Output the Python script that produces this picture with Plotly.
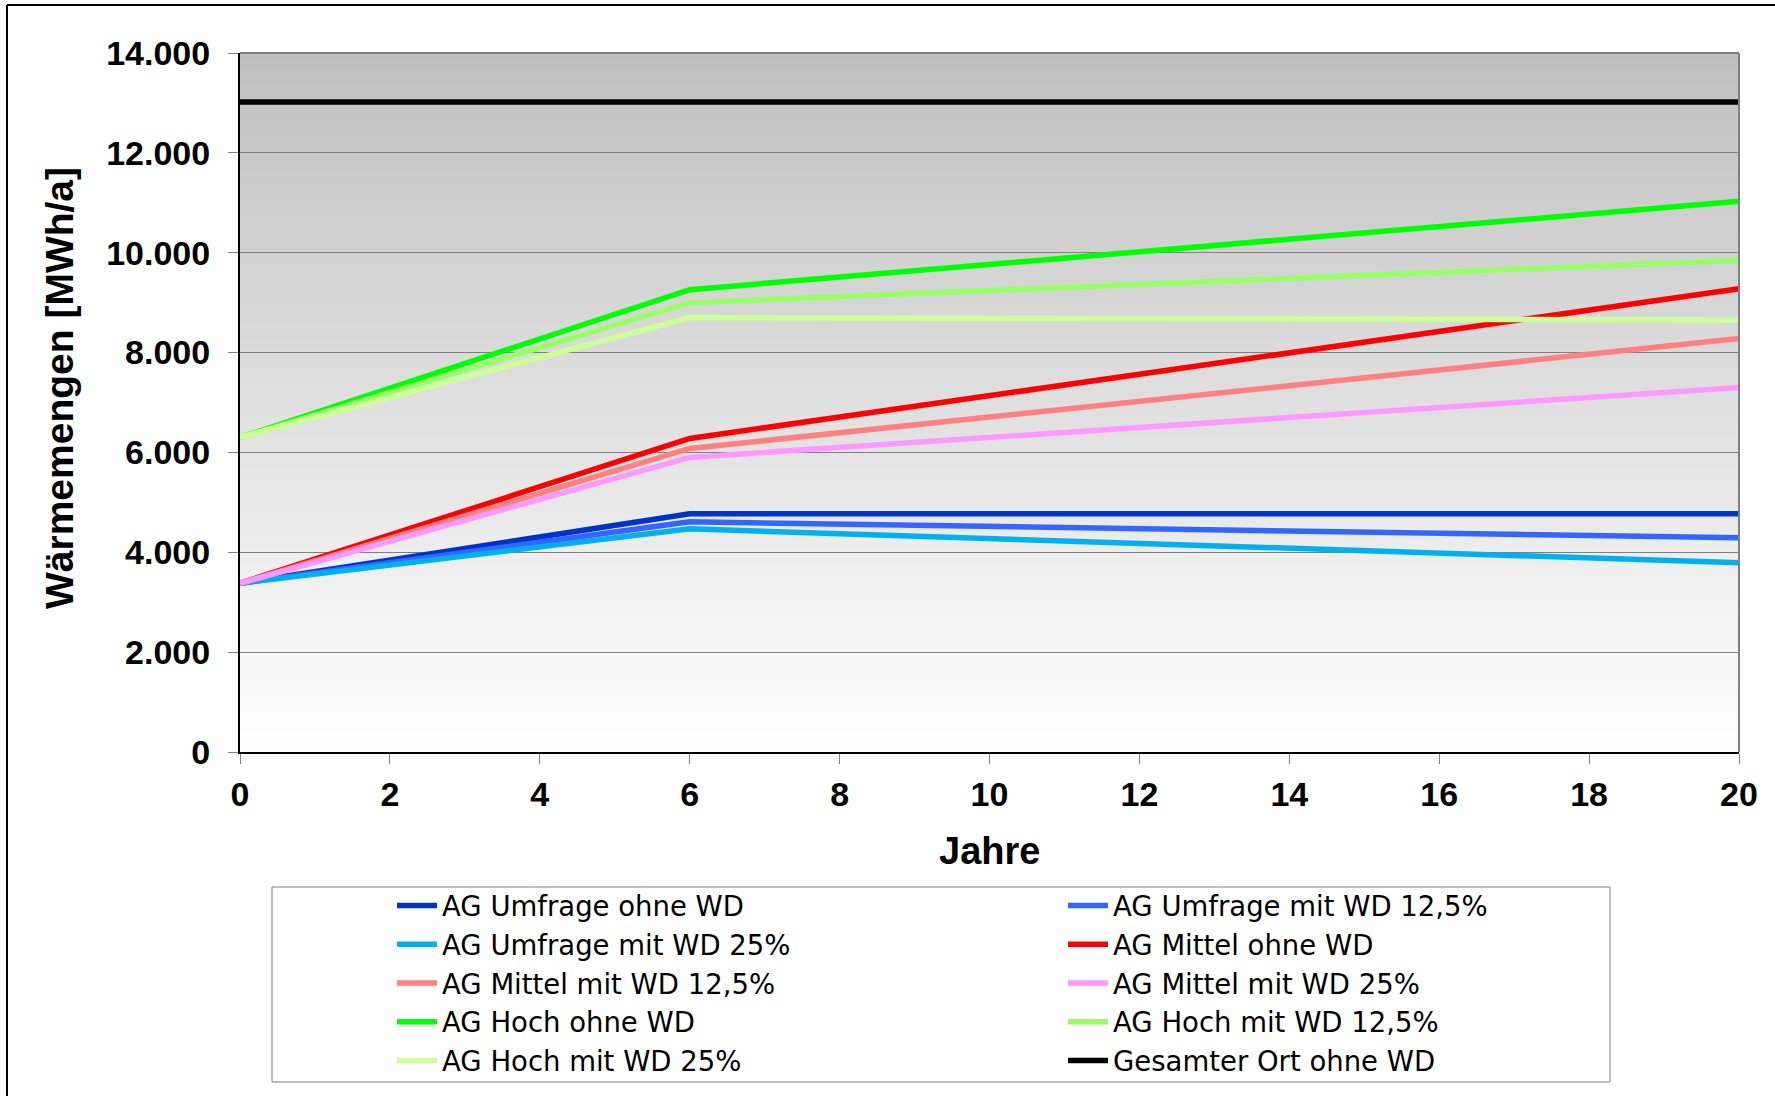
import plotly.graph_objects as go

# ---------------- data ----------------
years = [0, 6, 20]
series_names = [
    "AG Umfrage ohne WD", "AG Umfrage mit WD 12,5%",
    "AG Umfrage mit WD 25%", "AG Mittel ohne WD",
    "AG Mittel mit WD 12,5%", "AG Mittel mit WD 25%",
    "AG Hoch ohne WD", "AG Hoch mit WD 12,5%",
    "AG Hoch mit WD 25%", "Gesamter Ort ohne WD",
]
umfrage_ohne = [3380, 4770, 4770]
umfrage_125 = [3380, 4610, 4290]
umfrage_25 = [3380, 4470, 3790]
mittel_ohne = [3380, 6280, 9280]
mittel_125 = [3380, 6080, 8280]
mittel_25 = [3380, 5900, 7300]
hoch_ohne = [6300, 9260, 11030]
hoch_125 = [6300, 9000, 9850]
hoch_25 = [6300, 8700, 8650]
gesamt = [13020, 13020, 13020]
series_values = [umfrage_ohne, umfrage_125, umfrage_25, mittel_ohne, mittel_125,
                 mittel_25, hoch_ohne, hoch_125, hoch_25, gesamt]
colors = ["#0033cc", "#3366ff", "#00b0f0", "#ff0000", "#ff8080",
          "#ff99ff", "#00ff00", "#99ff66", "#ccff99", "#000000"]

x_ticks = [0, 2, 4, 6, 8, 10, 12, 14, 16, 18, 20]
y_ticks = [0, 2000, 4000, 6000, 8000, 10000, 12000, 14000]
y_ticklabels = ["0", "2.000", "4.000", "6.000", "8.000", "10.000", "12.000", "14.000"]
x_range = [0, 20]
y_range = [0, 14000]

W, H = 1775, 1096
ML, MR, MT, MB = 240, 36, 53, 344
PW = W - ML - MR
PH = H - MT - MB
FONT = "Liberation Sans, Arial, sans-serif"

fig = go.Figure()

for name, vals, col in zip(series_names, series_values, colors):
    fig.add_trace(go.Scatter(
        x=years, y=vals, mode="lines", name=name,
        line=dict(color=col, width=5.5),
    ))


def px_x(p):
    return (p - ML) / PW


def px_y(p):
    return (H - MB - p) / PH


# vertical gradient background (grey at top -> white at bottom), below grid
shapes = []
n_bands = 120
top_c, bot_c = 192, 255
for i in range(n_bands):
    f = i / (n_bands - 1)
    c = round(bot_c + (top_c - bot_c) * f)
    y0 = y_range[0] + (y_range[1] - y_range[0]) * i / n_bands
    shapes.append(dict(type="rect", xref="x", yref="y",
                       x0=x_range[0], x1=x_range[1], y0=y0, y1=y_range[1],
                       line=dict(width=0), fillcolor=f"rgb({c},{c},{c})",
                       layer="below"))

shapes += [
    # plot frame (gray top/right)
    dict(type="line", xref="paper", yref="paper", x0=0, x1=1, y0=1, y1=1,
         line=dict(color="#808080", width=2), layer="above"),
    dict(type="line", xref="paper", yref="paper", x0=1, x1=1, y0=0, y1=1,
         line=dict(color="#808080", width=2), layer="above"),
    # legend box
    dict(type="rect", xref="paper", yref="paper",
         x0=px_x(272), x1=px_x(1610), y0=px_y(1082), y1=px_y(887),
         line=dict(color="#808080", width=1), fillcolor="white", layer="below"),
    # outer border (top and left)
    dict(type="line", xref="paper", yref="paper",
         x0=px_x(7), x1=px_x(1775), y0=px_y(5), y1=px_y(5),
         line=dict(color="#000000", width=2)),
    dict(type="line", xref="paper", yref="paper",
         x0=px_x(7), x1=px_x(7), y0=px_y(5), y1=px_y(1096),
         line=dict(color="#000000", width=2)),
]

annotations = [
    dict(text="<b>Jahre</b>", xref="paper", yref="paper",
         x=0.5, y=px_y(851), xanchor="center", yanchor="middle",
         showarrow=False, font=dict(size=38, color="black", family=FONT)),
    dict(text="<b>Wärmemengen [MWh/a]</b>", xref="paper", yref="paper",
         x=px_x(59), y=px_y(388), xanchor="center", yanchor="middle",
         textangle=-90, showarrow=False,
         font=dict(size=39, color="black", family=FONT)),
]

fig.update_layout(
    width=W, height=H,
    margin=dict(l=ML, r=MR, t=MT, b=MB, autoexpand=False),
    paper_bgcolor="white", plot_bgcolor="rgba(0,0,0,0)",
    font=dict(family=FONT, color="black"),
    shapes=shapes, annotations=annotations,
    legend=dict(
        orientation="h", x=px_x(392), y=px_y(881), xanchor="left", yanchor="top",
        bgcolor="rgba(0,0,0,0)", borderwidth=0,
        font=dict(size=27.5, family="DejaVu Sans", color="black"),
        entrywidth=616, entrywidthmode="pixels",
        itemwidth=40, tracegroupgap=0,
    ),
    xaxis=dict(
        range=x_range, tickvals=x_ticks, ticktext=[str(v) for v in x_ticks],
        showgrid=False, zeroline=False,
        showline=True, linecolor="black", linewidth=2,
        ticks="outside", ticklen=10, tickcolor="#808080", tickwidth=1,
        tickfont=dict(size=34, family=FONT, color="black", weight="bold"),
        ticklabelstandoff=1,
    ),
    yaxis=dict(
        range=y_range, tickvals=y_ticks, ticktext=y_ticklabels,
        showgrid=True, gridcolor="#808080", gridwidth=1, zeroline=False,
        showline=True, linecolor="black", linewidth=2,
        ticks="outside", ticklen=10, tickcolor="#808080", tickwidth=1,
        tickfont=dict(size=34, family=FONT, color="black", weight="bold"),
        ticklabelstandoff=11,
    ),
)

fig.write_html("out.html", config={"displayModeBar": False},
               post_script="document.body.style.margin='0';document.body.style.overflow='hidden';")
